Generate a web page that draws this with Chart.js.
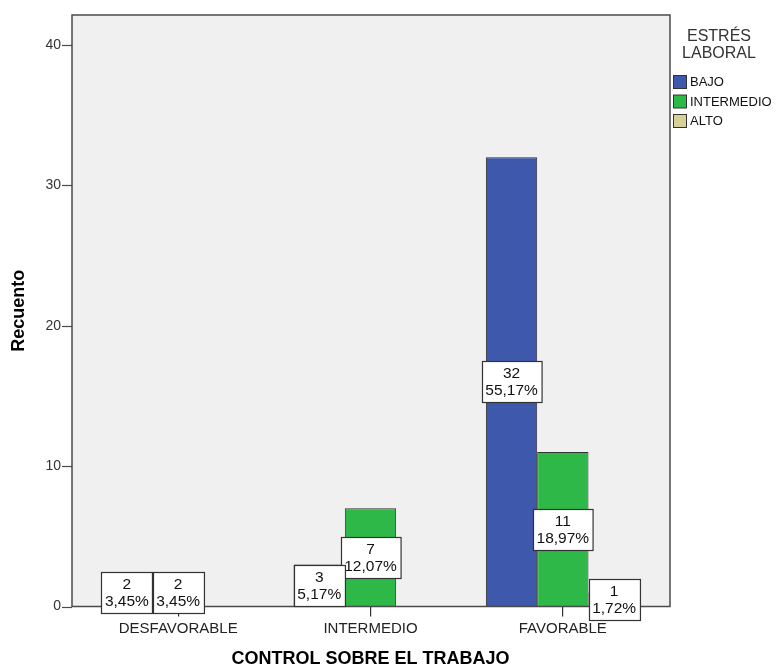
<!DOCTYPE html>
<html lang="es">
<head>
  <meta charset="UTF-8" />
  <title>Control sobre el trabajo</title>
  <script src="https://cdn.jsdelivr.net/npm/chart.js"></script>
  <style>
    html, body { margin: 0; padding: 0; background: #fff; }
    #wrap { width: 777px; height: 670px; }
  </style>
</head>
<body>
  <div id="wrap"><canvas id="chart" width="777" height="670"></canvas></div>
  <script>
    // datos
    const categories = ['DESFAVORABLE', 'INTERMEDIO', 'FAVORABLE'];
    const seriesNames = ['BAJO', 'INTERMEDIO', 'ALTO'];
    const bajo = [2, 3, 32];
    const intermedio = [2, 7, 11];
    const alto = [0, 0, 1];
    const yTicks = [0, 10, 20, 30, 40];
    const colors = ['#3e58ac', '#2eb848', '#d5cf98'];

    const total = [...bajo, ...intermedio, ...alto].reduce((a, b) => a + b, 0);
    const pct = v => (v / total * 100).toFixed(2).replace('.', ',') + '%';

    const FONT = '"Liberation Sans", Arial, sans-serif';
    const frame = { left: 72, right: 670 };

    // fondo, marco, marcas del eje Y, etiquetas y leyenda
    const decor = {
      id: 'decor',
      beforeDraw(chart) {
        const { ctx, chartArea: a } = chart;
        ctx.save();
        ctx.fillStyle = '#f0f0f0';
        ctx.fillRect(frame.left, a.top, frame.right - frame.left, a.bottom - a.top);
        ctx.restore();
      },
      afterDatasetsDraw(chart) {
        const { ctx, chartArea: a } = chart;
        const y = chart.scales.y;
        ctx.save();
        ctx.strokeStyle = '#4a4a4a';
        ctx.lineWidth = 1.5;
        ctx.strokeRect(frame.left, a.top, frame.right - frame.left, a.bottom - a.top);
        ctx.lineWidth = 1.2;
        yTicks.forEach(t => {
          const py = Math.round(y.getPixelForValue(t)) + 0.5;
          ctx.beginPath();
          ctx.moveTo(62, py);
          ctx.lineTo(frame.left, py);
          ctx.stroke();
        });

        // etiquetas de recuento y porcentaje
        ctx.font = '15.5px ' + FONT;
        ctx.textAlign = 'center';
        ctx.textBaseline = 'middle';
        for (let d = chart.data.datasets.length - 1; d >= 0; d--) {
          const meta = chart.getDatasetMeta(d);
          meta.data.forEach((el, i) => {
            const v = chart.data.datasets[d].data[i];
            if (!v) return;
            const l1 = String(v), l2 = pct(v);
            const w = Math.max(ctx.measureText(l1).width, ctx.measureText(l2).width) + 7;
            const h = 41;
            const cy = (el.y + el.base) / 2;
            const bx = Math.round(el.x - w / 2) + 0.5, by = Math.round(cy - h / 2) + 0.5;
            ctx.fillStyle = '#fff';
            ctx.fillRect(bx, by, w, h);
            ctx.strokeStyle = '#333';
            ctx.lineWidth = 1.2;
            ctx.strokeRect(bx, by, w, h);
            ctx.fillStyle = '#111';
            ctx.fillText(l1, el.x, cy - 8);
            ctx.fillText(l2, el.x, cy + 9);
          });
        }
        ctx.restore();
      },
      afterDraw(chart) {
        const { ctx } = chart;
        ctx.save();
        ctx.fillStyle = '#333';
        ctx.textAlign = 'center';
        ctx.textBaseline = 'middle';
        ctx.font = '16px ' + FONT;
        ctx.fillText('ESTRÉS', 719, 37);
        ctx.fillText('LABORAL', 719, 54);
        ctx.font = '13px ' + FONT;
        ctx.textAlign = 'left';
        seriesNames.forEach((n, i) => {
          const cy = 82 + i * 19.5;
          ctx.fillStyle = colors[i];
          ctx.fillRect(673.5, cy - 6.5, 13, 13);
          ctx.strokeStyle = '#333';
          ctx.lineWidth = 1;
          ctx.strokeRect(673.5, cy - 6.5, 13, 13);
          ctx.fillStyle = '#111';
          ctx.fillText(n, 690, cy + 0.5);
        });
        ctx.restore();
      }
    };

    const mkSet = (label, data, i) => ({
      label, data,
      backgroundColor: colors[i],
      borderColor: '#333',
      borderWidth: 1,
      borderSkipped: 'bottom',
      barPercentage: 1,
      categoryPercentage: 0.8
    });

    new Chart(document.getElementById('chart'), {
      type: 'bar',
      data: {
        labels: categories,
        datasets: [
          mkSet(seriesNames[0], bajo, 0),
          mkSet(seriesNames[1], intermedio, 1),
          mkSet(seriesNames[2], alto, 2)
        ]
      },
      options: {
        responsive: false,
        animation: false,
        layout: { padding: { top: 15, right: 118, left: 0, bottom: 0 } },
        plugins: { legend: { display: false }, tooltip: { enabled: false } },
        scales: {
          x: {
            offset: true,
            afterFit(s) { s.height = 63.5; s.paddingLeft = 0; s.paddingRight = 0; },
            grid: { display: true, drawOnChartArea: false, offset: false, tickLength: 10, color: '#333', lineWidth: 1.2 },
            border: { display: false },
            ticks: { color: '#222', padding: 3, font: { family: FONT, size: 15 } },
            title: { display: true, text: 'CONTROL SOBRE EL TRABAJO', color: '#000',
                     font: { family: FONT, size: 18, weight: 'bold' }, padding: { top: 0, bottom: 0 } }
          },
          y: {
            min: 0,
            max: 42.13,
            afterFit(s) { s.width = 82; s.paddingTop = 0; s.paddingBottom = 0; },
            afterBuildTicks(s) { s.ticks = yTicks.map(v => ({ value: v })); },
            grid: { display: false },
            border: { display: false },
            ticks: { color: '#333', padding: 13, font: { family: FONT, size: 14 } },
            title: { display: true, text: 'Recuento', color: '#000',
                     font: { family: FONT, size: 18, weight: 'bold' }, padding: { top: 8, bottom: 0 } }
          }
        }
      },
      plugins: [decor]
    });
  </script>
</body>
</html>
